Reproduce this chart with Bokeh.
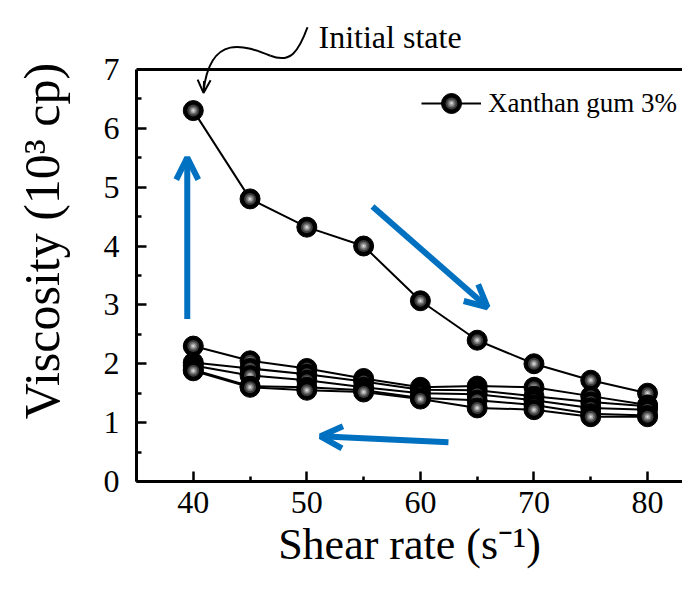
from bokeh.plotting import figure
from bokeh.models import (Range1d, FixedTicker, Span, Arrow, OpenHead, Label,
                          Legend, LegendItem, ColumnDataSource)
from bokeh.embed import file_html
from bokeh.resources import INLINE

# ---- data ----
shear_rate = [40, 45, 50, 55, 60, 65, 70, 75, 80]
sweep1 = [6.30, 4.80, 4.32, 4.00, 3.07, 2.40, 2.00, 1.72, 1.50]
sweep2 = [2.30, 2.05, 1.92, 1.75, 1.60, 1.62, 1.60, 1.45, 1.30]
sweep3 = [2.02, 1.92, 1.82, 1.70, 1.56, 1.55, 1.45, 1.35, 1.28]
sweep4 = [1.97, 1.80, 1.72, 1.60, 1.50, 1.48, 1.38, 1.25, 1.22]
sweep5 = [1.90, 1.62, 1.60, 1.55, 1.42, 1.38, 1.30, 1.15, 1.12]
sweep6 = [1.88, 1.60, 1.55, 1.52, 1.40, 1.25, 1.22, 1.10, 1.10]
sweeps = [sweep1, sweep2, sweep3, sweep4, sweep5, sweep6]

x_ticks = [40, 50, 60, 70, 80]
x_minor = [35, 45, 55, 65, 75, 85]
y_ticks = [0, 1, 2, 3, 4, 5, 6, 7]
y_minor = [0.5, 1.5, 2.5, 3.5, 4.5, 5.5, 6.5]

legend_label = "Xanthan gum 3%"
x_title = "Shear rate (s\u207b\u00b9)"
y_title = "Viscosity (10\u00b3 cp)"
note_text = "Initial state"

FONT = "Liberation Serif"
BLUE = "#0070C0"

p = figure(width=682, height=576, output_backend="svg", toolbar_location=None,
           x_range=Range1d(35, 83.08), y_range=Range1d(0, 8.17),
           min_border_left=136, min_border_right=0, min_border_top=0,
           min_border_bottom=95)
p.outline_line_color = None
p.grid.visible = False
p.background_fill_color = "white"
p.border_fill_color = "white"

for ax in (p.xaxis[0], p.yaxis[0]):
    ax.axis_line_width = 3
    ax.major_tick_line_width = 2.5
    ax.minor_tick_line_width = 2.5
    ax.major_tick_in = 10
    ax.major_tick_out = 0
    ax.minor_tick_in = 5
    ax.minor_tick_out = 0
    ax.major_label_text_font = FONT
    ax.major_label_text_font_size = "32px"
    ax.major_label_text_color = "black"
    ax.major_label_text_line_height = 0.9
    ax.axis_label_text_font = FONT
    ax.axis_label_text_font_style = "normal"
    ax.axis_label_text_color = "black"
    ax.axis_label_text_line_height = 0.9

p.xaxis.axis_label_text_font_size = "44px"
p.yaxis.axis_label_text_font_size = "50px"
p.xaxis.ticker = FixedTicker(ticks=x_ticks, minor_ticks=x_minor)
p.yaxis.ticker = FixedTicker(ticks=y_ticks, minor_ticks=y_minor)
p.yaxis.bounds = (0, 7)
p.xaxis.major_label_standoff = 10
p.yaxis.major_label_standoff = 17
p.xaxis.axis_label = x_title
p.yaxis.axis_label = y_title
p.xaxis.axis_label_standoff = 4
p.yaxis.axis_label_standoff = 31

# top frame line
p.add_layout(Span(location=7, dimension="width", line_color="black", line_width=3))

# ---- data series ----
shade = [(20, "black"), (12, "#3c3c3c"), (8, "#6e6e6e"), (5, "#a8a8a8"), (2, "#e0e0e0")]
legend_sets = []
for i, s in enumerate(sweeps):
    src = ColumnDataSource(dict(x=shear_rate, y=s))
    rl = p.line("x", "y", source=src, line_color="black", line_width=2)
    rs = []
    for sz, col in shade:
        rs.append(p.scatter("x", "y", source=src, size=sz, fill_color=col,
                            line_color="black" if col == "black" else None))
    if i == 0:
        legend_sets = [rl] + rs

# legend: stacked legends so the marker keeps its shading
# (legend marker size = 0.4 * min(glyph_width, glyph_height))
center_y = 378
main_h = 50
legend_x = 285
p.add_layout(Legend(items=[LegendItem(label=legend_label, renderers=legend_sets[:2])],
                    location=(legend_x, center_y - main_h // 2), padding=0, margin=0, spacing=0,
                    glyph_width=60, glyph_height=main_h, label_standoff=7,
                    label_text_font=FONT, label_text_font_size="27px",
                    label_text_color="black",
                    border_line_color=None, background_fill_alpha=0))
for r, (sz, col) in zip(legend_sets[2:], shade[1:]):
    gh = int(round(sz / 0.4))
    p.add_layout(Legend(items=[LegendItem(label=" ", renderers=[r])],
                        location=(legend_x, center_y - gh // 2), padding=0, margin=0, spacing=0,
                        glyph_width=60, glyph_height=gh, label_standoff=0,
                        label_width=0, label_height=0,
                        label_text_font_size="1px",
                        border_line_color=None, background_fill_alpha=0))

# ---- blue arrows ----
p.add_layout(Arrow(x_start=39.47, y_start=2.76, x_end=39.47, y_end=5.50,
                   line_color=BLUE, line_width=6,
                   end=OpenHead(size=22, line_color=BLUE, line_width=6)))
p.add_layout(Arrow(x_start=55.78, y_start=4.67, x_end=65.91, y_end=2.96,
                   line_color=BLUE, line_width=6,
                   end=OpenHead(size=22, line_color=BLUE, line_width=6)))
p.add_layout(Arrow(x_start=62.47, y_start=0.668, x_end=51.20, y_end=0.768,
                   line_color=BLUE, line_width=6,
                   end=OpenHead(size=22, line_color=BLUE, line_width=6)))

# ---- "Initial state" annotation ----
p.bezier(x0=[50.057, 46.799], y0=[7.716, 7.232],
         x1=[46.799, 40.899], y1=[7.232, 6.630],
         cx0=[49.264, 44.598], cy0=[7.299, 7.399],
         cx1=[48.560, 41.516], cy1=[7.098, 7.633],
         line_color="black", line_width=2)
p.add_layout(Arrow(x_start=40.95, y_start=6.80, x_end=40.899, y_end=6.60,
                   line_color="black", line_width=2,
                   end=OpenHead(size=13, line_color="black", line_width=2)))
p.add_layout(Label(x=51.03, y=7.549, text=note_text, text_font=FONT,
                   text_font_size="32px", text_baseline="alphabetic",
                   text_align="left", text_color="black"))

open("out.html", "w").write(file_html(p, INLINE))
